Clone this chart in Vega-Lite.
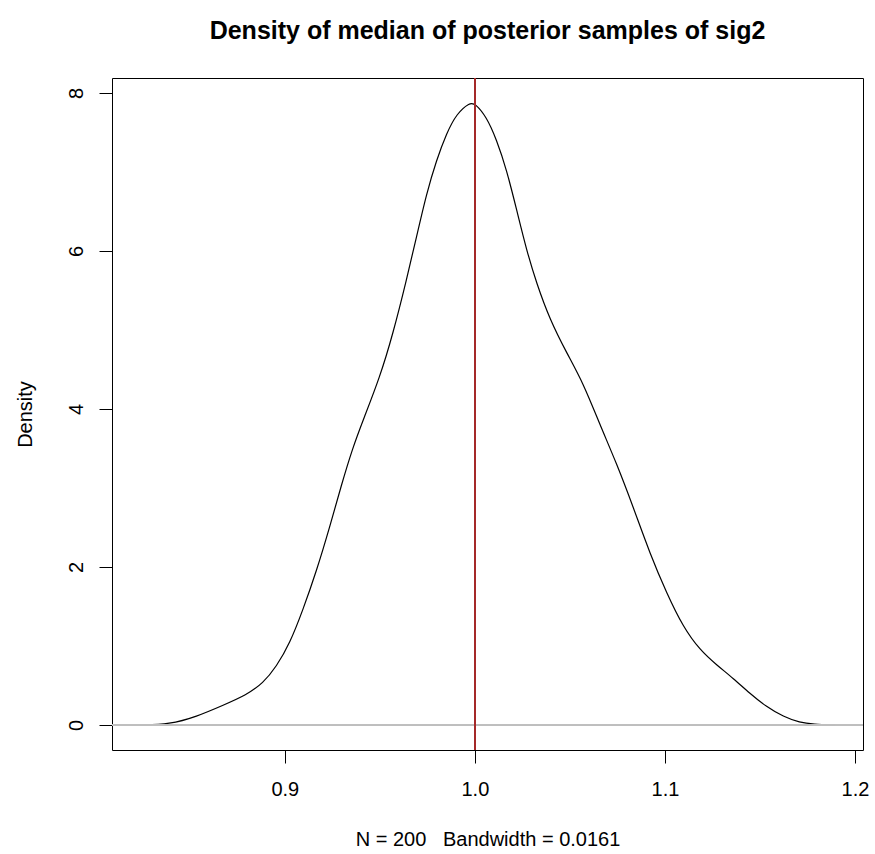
{
  "$schema": "https://vega.github.io/schema/vega-lite/v6.json",
  "autosize": "none",
  "width": 751,
  "height": 672,
  "padding": {"left": 112, "top": 78, "right": 12, "bottom": 104},
  "background": "white",
  "config": {
    "font": "Liberation Sans",
    "view": {"stroke": "black", "strokeWidth": 1},
    "axis": {
      "domain": false,
      "grid": false,
      "ticks": true,
      "tickColor": "black",
      "tickSize": 13,
      "tickWidth": 1,
      "labelFont": "Liberation Sans",
      "labelFontSize": 20,
      "labelColor": "black",
      "titleFont": "Liberation Sans",
      "titleFontSize": 20,
      "titleFontWeight": "normal",
      "titleColor": "black"
    }
  },
  "title": {
    "text": "Density of median of posterior samples of sig2",
    "font": "Liberation Sans",
    "fontSize": 25,
    "fontWeight": "bold",
    "color": "black",
    "anchor": "middle",
    "frame": "group",
    "baseline": "bottom",
    "offset": 8
  },
  "data": {
    "values": [
      {"v": 0.8237, "d": 0.0},
      {"v": 0.8395, "d": 0.01},
      {"v": 0.8535, "d": 0.105},
      {"v": 0.8675, "d": 0.25},
      {"v": 0.8798, "d": 0.38},
      {"v": 0.8886, "d": 0.53},
      {"v": 0.8956, "d": 0.74},
      {"v": 0.9026, "d": 1.03},
      {"v": 0.9096, "d": 1.46},
      {"v": 0.9167, "d": 1.95},
      {"v": 0.9237, "d": 2.51},
      {"v": 0.9298, "d": 3.04},
      {"v": 0.9356, "d": 3.50},
      {"v": 0.9412, "d": 3.86},
      {"v": 0.95, "d": 4.40},
      {"v": 0.957, "d": 4.96},
      {"v": 0.964, "d": 5.63},
      {"v": 0.9693, "d": 6.18},
      {"v": 0.9746, "d": 6.73},
      {"v": 0.9798, "d": 7.15},
      {"v": 0.9851, "d": 7.49},
      {"v": 0.9904, "d": 7.74},
      {"v": 0.9974, "d": 7.88},
      {"v": 1.0, "d": 7.87},
      {"v": 1.0061, "d": 7.70},
      {"v": 1.0114, "d": 7.41},
      {"v": 1.0167, "d": 7.03},
      {"v": 1.022, "d": 6.52},
      {"v": 1.0272, "d": 6.01},
      {"v": 1.0325, "d": 5.59},
      {"v": 1.0395, "d": 5.13},
      {"v": 1.0483, "d": 4.71},
      {"v": 1.057, "d": 4.33},
      {"v": 1.0658, "d": 3.80},
      {"v": 1.0746, "d": 3.31},
      {"v": 1.0833, "d": 2.76},
      {"v": 1.0921, "d": 2.17},
      {"v": 1.1009, "d": 1.67},
      {"v": 1.1096, "d": 1.24},
      {"v": 1.1184, "d": 0.95},
      {"v": 1.1272, "d": 0.76},
      {"v": 1.136, "d": 0.59},
      {"v": 1.1447, "d": 0.40},
      {"v": 1.1535, "d": 0.23},
      {"v": 1.1623, "d": 0.105},
      {"v": 1.171, "d": 0.03},
      {"v": 1.178, "d": 0.01},
      {"v": 1.1895, "d": 0.0}
    ]
  },
  "layer": [
    {
      "mark": {"type": "line", "color": "black", "strokeWidth": 1.2, "interpolate": "basis"},
      "encoding": {
        "x": {
          "field": "v",
          "type": "quantitative",
          "scale": {"domain": [0.8091, 1.2042], "nice": false, "zero": false},
          "axis": {
            "values": [0.9, 1.0, 1.1, 1.2],
            "format": ".1f",
            "labelPadding": 16,
            "title": "N = 200\u00a0\u00a0\u00a0Bandwidth = 0.0161",
            "titlePadding": 30
          }
        },
        "y": {
          "field": "d",
          "type": "quantitative",
          "scale": {"domain": [-0.316, 8.19], "nice": false, "zero": false},
          "axis": {
            "values": [0, 2, 4, 6, 8],
            "format": "d",
            "labelAngle": -90,
            "labelAlign": "center",
            "labelBaseline": "bottom",
            "labelPadding": 13,
            "title": "Density",
            "titlePadding": 31
          }
        }
      }
    },
    {
      "mark": {"type": "rule", "color": "#BEBEBE", "strokeWidth": 1},
      "encoding": {"y": {"datum": 0}}
    },
    {
      "mark": {"type": "rule", "color": "#A52A2A", "strokeWidth": 1.5},
      "encoding": {"x": {"datum": 1.0}}
    }
  ]
}
